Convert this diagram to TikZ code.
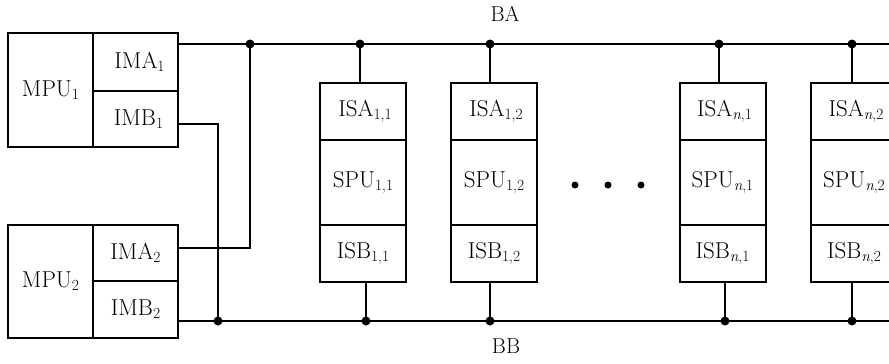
\documentclass[tikz,border=0pt]{standalone}
\usepackage{fontspec}
\newcommand{\sbs}[1]{\raisebox{-0.3ex}{\fontsize{15.5}{17}\selectfont #1}}
\begin{document}
\begin{tikzpicture}[x=1pt,y=-1pt,
  bx/.style={draw,line width=2pt,inner sep=0pt,font=\fontsize{23}{26}\selectfont},
  blk/.style={bx,minimum width=86pt},
  wire/.style={line width=2pt},
  jdot/.style={circle,fill,inner sep=0pt,minimum size=9pt},
  lbl/.style={font=\fontsize{21.5}{25}\selectfont,inner sep=0pt},
  ell/.style={circle,fill,inner sep=0pt,minimum size=7pt}]
\useasboundingbox (0,0) rectangle (889,364);
\clip (0,0) rectangle (889,364);

% bus labels
\node[lbl] (ba) at (505,14) {BA};
\node[lbl] (bb) at (506,346) {BB};

% master processors
\node[bx,minimum width=85pt,minimum height=114pt] (mpu1) at (50.5,90) {MPU\sbs{1}};
\node[bx,minimum width=85pt,minimum height=58pt] (ima1) at (135.5,62) {\hspace{8pt}IMA\sbs{1}};
\node[bx,minimum width=85pt,minimum height=56pt] (imb1) at (135.5,119) {\hspace{6pt}IMB\sbs{1}};

\node[bx,minimum width=85pt,minimum height=113pt] (mpu2) at (50.5,281.5) {MPU\sbs{2}};
\node[bx,minimum width=85pt,minimum height=56pt] (ima2) at (135.5,253) {IMA\sbs{2}};
\node[bx,minimum width=85pt,minimum height=57pt] (imb2) at (135.5,309.5) {IMB\sbs{2}};

% slave blocks
\foreach \c/\n/\s in {363/a/{1,1},494/b/{1,2},722.5/c/{\textit{n},1},854/d/{\textit{n},2}}{
  \node[blk,minimum height=57pt] (isa\n) at (\c,111.5) {\hspace{4pt}ISA\sbs{\s}};
  \node[blk,minimum height=85pt] (spu\n) at (\c,182.5) {SPU\sbs{\s}};
  \node[blk,minimum height=57pt] (isb\n) at (\c,253.5) {ISB\sbs{\s}};
}

% ellipsis dots
\node[ell] (e1) at (575,185) {};
\node[ell] (e2) at (608,185) {};
\node[ell] (e3) at (641,185) {};

% bus end points
\coordinate (baS) at (178,44);
\coordinate (baE) at (889,44);
\coordinate (bbS) at (178,321);
\coordinate (bbE) at (889,321);
\coordinate (imb1o) at (178,124);
\coordinate (ima2o) at (178,248);

% junctions
\coordinate (jA0) at (250,44);
\coordinate (jAa) at (360,44);
\coordinate (jAb) at (490,44);
\coordinate (jAc) at (719,44);
\coordinate (jAd) at (852,44);
\coordinate (jB0) at (218,321);
\coordinate (jBa) at (366,321);
\coordinate (jBb) at (490,321);
\coordinate (jBc) at (725,321);
\coordinate (jBd) at (852,321);

% buses
\draw[wire] (baS) -- (baE);
\draw[wire] (bbS) -- (bbE);

% master links
\draw[wire] (imb1o) -- (jB0 |- imb1o) -- (jB0);
\draw[wire] (ima2o) -- (jA0 |- ima2o) -- (jA0);

% slave links
\foreach \n in {a,b,c,d}{
  \draw[wire] (jA\n) -- (jA\n |- isa\n.north);
  \draw[wire] (jB\n) -- (jB\n |- isb\n.south);
}

% junction dots
\foreach \j in {jA0,jAa,jAb,jAc,jAd,jB0,jBa,jBb,jBc,jBd}{
  \node[jdot] at (\j) {};
}
\end{tikzpicture}
\end{document}
